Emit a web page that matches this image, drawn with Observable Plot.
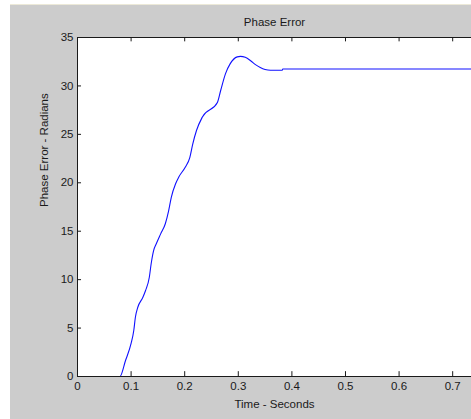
<!DOCTYPE html>
<html>
<head>
<meta charset="utf-8">
<script src="https://cdn.jsdelivr.net/npm/d3@7"></script>
<script src="https://cdn.jsdelivr.net/npm/@observablehq/plot@0.6"></script>
<style>
  html, body { margin: 0; padding: 0; background: #ffffff; overflow: hidden; }
  #wrap { position: absolute; left: 10px; top: 4px; width: 461px; border-top: 1px solid #ece9d8; background: #cccccc; }
  svg { display: block; }
</style>
</head>
<body>
<div id="wrap"></div>
<script>
const time = [0, 0.079, 0.0896, 0.100, 0.105, 0.108, 0.1125, 0.122, 0.127, 0.134, 0.1375, 0.142,
  0.147, 0.155, 0.164, 0.170, 0.175, 0.183, 0.189, 0.201, 0.2095, 0.215, 0.222, 0.233, 0.261,
  0.267, 0.276, 0.285, 0.298, 0.304, 0.313, 0.323, 0.332, 0.341, 0.350, 0.360, 0.382, 0.383, 0.74];
const phaseError = [0, 0, 1.65, 3.41, 4.75, 6.12, 7.15, 8.18, 8.88, 10.25, 11.67, 13.0,
  13.7, 14.7, 15.8, 17.1, 18.5, 19.9, 20.6, 21.6, 22.6, 24.0, 25.4, 26.8, 28.3,
  29.5, 31.25, 32.3, 33.0, 33.05, 32.95, 32.6, 32.2, 31.9, 31.7, 31.62, 31.62, 31.75, 31.75];
const xTicks = [0, 0.1, 0.2, 0.3, 0.4, 0.5, 0.6, 0.7];
const yTicks = [0, 5, 10, 15, 20, 25, 30, 35];
const titleText = "Phase Error";
const xLabel = "Time - Seconds";
const yLabel = "Phase Error - Radians";

const data = time.map((t, i) => ({t, v: phaseError[i]}));
const ink = "#1a1a1a";

const chart = Plot.plot({
  width: 461,
  height: 414,
  marginLeft: 67,
  marginTop: 32,
  marginBottom: 43,
  marginRight: 0,
  style: {background: "#cccccc", fontFamily: "'Liberation Sans', Arial, sans-serif", fontSize: "11px", color: ink},
  x: {domain: [0, 0.7351], ticks: xTicks},
  y: {domain: [0, 35], ticks: yTicks},
  marks: [
    Plot.frame({fill: "white", stroke: null}),
    Plot.axisX(xTicks, {tickSize: 0, tickPadding: 5, tickFormat: d => String(d), label: null, fill: ink, fontSize: 11.5}),
    Plot.axisY(yTicks, {tickSize: 0, tickPadding: 4, label: null, fill: ink, fontSize: 11.5}),
    Plot.line(data, {x: "t", y: "v", stroke: "#1010ff", strokeWidth: 1.1, curve: "monotone-x", clip: true}),
    Plot.ruleY([0, 35], {stroke: ink, strokeWidth: 1}),
    Plot.ruleX([0], {stroke: ink, strokeWidth: 1}),
    Plot.ruleX(xTicks, {y1: 0, y2: 0.5, stroke: ink}),
    Plot.ruleX(xTicks, {y1: 35, y2: 34.55, stroke: ink}),
    Plot.ruleY(yTicks, {x1: 0, x2: 0.0075, stroke: ink}),
    Plot.text([titleText], {frameAnchor: "top", dy: -15, lineAnchor: "middle", fill: ink, fontSize: 11.5}),
    Plot.text([xLabel], {frameAnchor: "bottom", dy: 28, lineAnchor: "middle", fill: ink, fontSize: 11.5}),
    Plot.text([yLabel], {frameAnchor: "left", dx: -33, rotate: -90, lineAnchor: "middle", fill: ink, fontSize: 11.5})
  ]
});
document.getElementById("wrap").appendChild(chart);
</script>
</body>
</html>
